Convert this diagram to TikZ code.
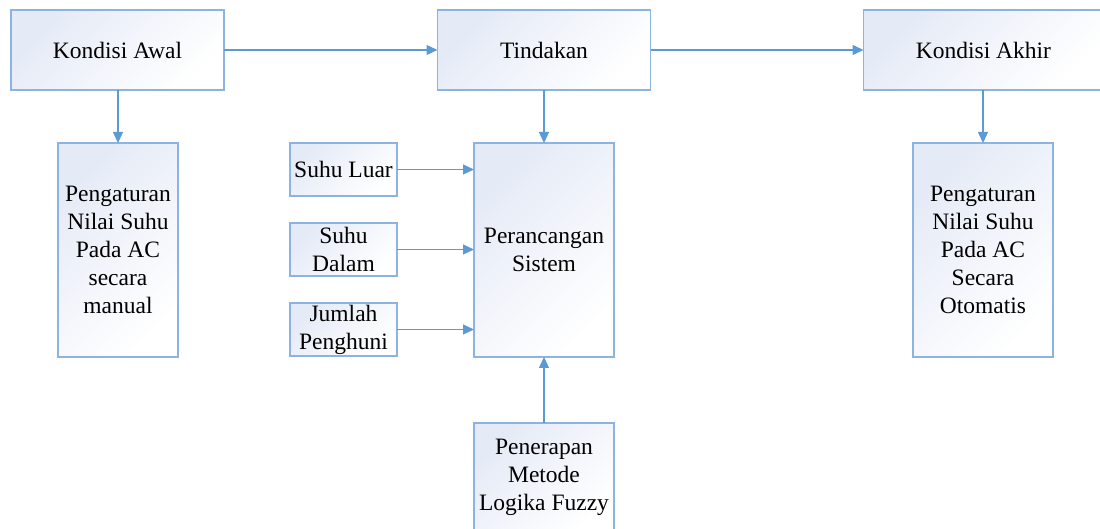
\documentclass[tikz,border=0pt]{standalone}
\usepackage{fontspec}
\setmainfont{Liberation Serif}
\usetikzlibrary{arrows.meta}

\definecolor{garisblok}{RGB}{141,179,226}
\definecolor{garispanah}{RGB}{91,155,213}
\definecolor{isiblok}{RGB}{228,234,246}

\begin{document}
\begin{tikzpicture}[x=0.5pt, y=-0.5pt,
    blok/.style={draw=garisblok, line width=0.7pt, top color=isiblok,
      bottom color=white, shading angle=45, inner sep=0pt, outer sep=0pt,
      align=center, font=\fontsize{11.75}{14}\selectfont},
    panah/.style={draw=garispanah, line width=0.65pt,
      -{Triangle[length=5.5pt,width=5pt]}}]
    \useasboundingbox (0,0) rectangle (1100,529);
    % baris atas
    \node[blok, minimum width=106.5pt, minimum height=40pt] (awal) at (117.5,50) {Kondisi Awal};
    \node[blok, minimum width=106.5pt, minimum height=40pt] (tindakan) at (544,50) {Tindakan};
    \node[blok, minimum width=120pt, minimum height=40pt] (akhir) at (983.5,50) {Kondisi Akhir};
    % baris tengah
    \node[blok, minimum width=60pt, minimum height=107pt] (manual) at (118,250)
      {Pengaturan\\Nilai Suhu\\Pada AC\\secara\\manual};
    \node[blok, minimum width=70pt, minimum height=107pt] (sistem) at (544,250)
      {Perancangan\\Sistem};
    \node[blok, minimum width=70pt, minimum height=107pt] (otomatis) at (983,250)
      {Pengaturan\\Nilai Suhu\\Pada AC\\Secara\\Otomatis};
    \node[blok, minimum width=70pt, minimum height=54pt] (fuzzy) at (544,477)
      {Penerapan\\Metode\\Logika Fuzzy};
    % masukan sistem
    \foreach \y/\nama/\teks in {169.5/luar/{Suhu Luar}, 249.5/dalam/{Suhu\\Dalam},
        329.5/jumlah/{Jumlah\\Penghuni}}
    {
      \node[blok, minimum width=53.5pt, minimum height=26.5pt] (\nama) at (343.5,\y) {\teks};
      \draw[panah] (\nama.east) -- (sistem.west |- \nama.east);
    }
    \draw[panah] (awal) -- (tindakan);
    \draw[panah] (tindakan) -- (akhir.west |- tindakan.east);
    \draw[panah] (awal.south -| manual.north) -- (manual.north);
    \draw[panah] (tindakan.south) -- (sistem.north);
    \draw[panah] (akhir.south -| otomatis.north) -- (otomatis.north);
    \draw[panah] (fuzzy) -- (sistem);
\end{tikzpicture}
\end{document}
